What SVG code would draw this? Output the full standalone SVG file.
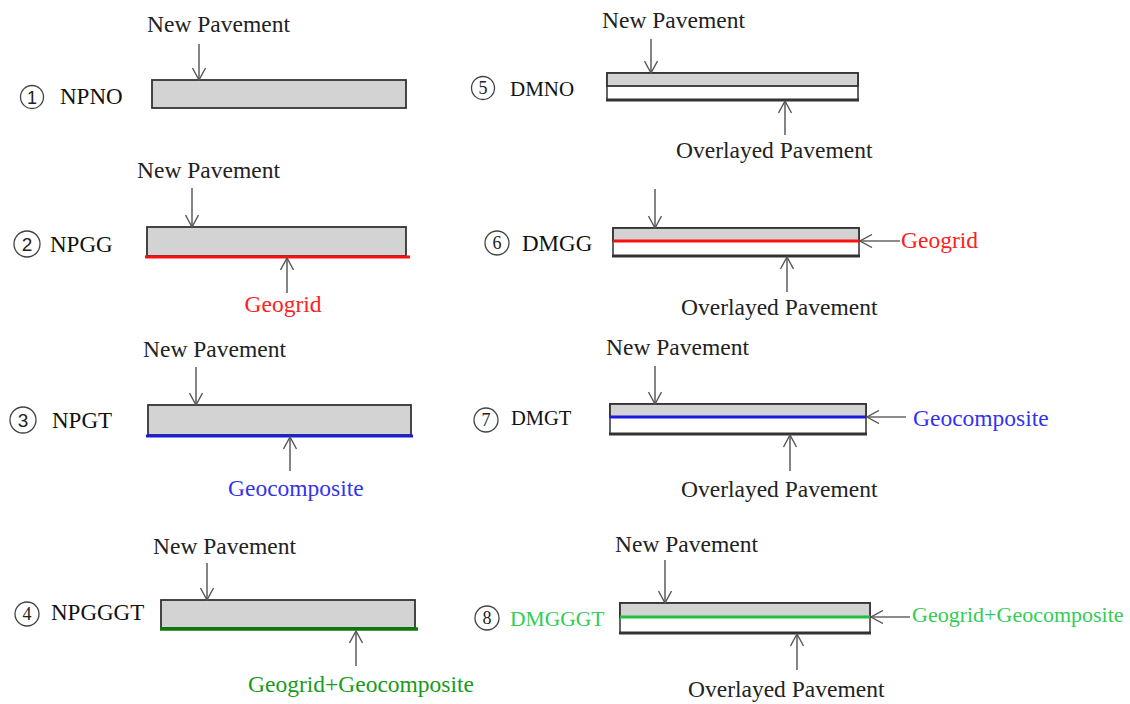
<svg xmlns="http://www.w3.org/2000/svg" width="1130" height="704" viewBox="0 0 1130 704">
<defs>
<style>
.t{font-family:"Liberation Serif","Times New Roman",serif;font-size:23.5px;fill:#222}
.lbl{font-family:"Liberation Serif","Times New Roman",serif;font-size:23px;fill:#111}
.num{font-family:"Liberation Sans",Arial,sans-serif;font-size:18px;fill:#222;text-anchor:middle}
.numS{font-family:"Liberation Serif","Times New Roman",serif;font-size:18px;fill:#222;text-anchor:middle}
.circ{fill:#fff;stroke:#444;stroke-width:1.3}
.slab{fill:#d3d3d3;stroke:#333;stroke-width:1.8}
.low{fill:#fff;stroke:#333;stroke-width:1.5}
.base{stroke:#333;stroke-width:3}
.arr{stroke:#666;stroke-width:1.6;fill:none;marker-end:url(#ah)}
.red{fill:#ff2020}.blue{fill:#3333ee}.dg{fill:#1a9a1a}.lg{fill:#33cc55}
</style>
<marker id="ah" viewBox="0 0 14 14" refX="13" refY="7" markerWidth="14" markerHeight="14" markerUnits="userSpaceOnUse" orient="auto">
<path d="M1,0.5 L13,7 L1,13.5" fill="none" stroke="#555" stroke-width="1.4"/>
</marker>
</defs>
<rect width="1130" height="704" fill="#fff"/>

<g id="n1">
<circle class="circ" cx="32" cy="97" r="11.5"/><text class="num" x="32" y="103.5">1</text>
<text class="lbl" x="60" y="104">NPNO</text>
<text class="t" x="147" y="32">New Pavement</text>
<rect class="slab" x="152" y="80" width="254" height="28"/>
</g>

<g id="n2">
<circle class="circ" cx="27" cy="244" r="13"/><text class="num" x="27" y="250.5" style="font-size:19px">2</text>
<text class="lbl" x="50" y="252">NPGG</text>
<text class="t" x="137" y="178">New Pavement</text>
<rect class="slab" x="147" y="227" width="259" height="29"/>
<line x1="145" y1="257" x2="410" y2="257" stroke="#ff1010" stroke-width="3"/>
<text class="t red" x="283" y="312" text-anchor="middle">Geogrid</text>
</g>

<g id="n3">
<circle class="circ" cx="23" cy="420" r="13"/><text class="num" x="23" y="426.5" style="font-size:19px">3</text>
<text class="lbl" x="52" y="428">NPGT</text>
<text class="t" x="143" y="357">New Pavement</text>
<rect class="slab" x="148" y="405" width="263" height="30"/>
<line x1="146" y1="436" x2="413" y2="436" stroke="#1a1ae0" stroke-width="3"/>
<text class="t blue" x="228" y="496">Geocomposite</text>
</g>

<g id="n4">
<circle class="circ" cx="27" cy="614" r="12"/><text class="numS" x="27" y="620">4</text>
<text class="lbl" x="51" y="620">NPGGGT</text>
<text class="t" x="153" y="554">New Pavement</text>
<rect class="slab" x="161" y="600" width="254" height="28"/>
<line x1="160" y1="629" x2="418" y2="629" stroke="#0a7a0a" stroke-width="3.5"/>
<text class="t dg" x="248" y="692">Geogrid+Geocomposite</text>
</g>

<g id="n5">
<circle class="circ" cx="483" cy="88" r="11.5"/><text class="numS" x="483" y="94">5</text>
<text class="lbl" x="510" y="96" style="font-size:21px">DMNO</text>
<text class="t" x="602" y="28">New Pavement</text>
<rect class="low" x="607" y="73" width="251" height="27"/>
<rect class="slab" x="607" y="73" width="251" height="13"/>
<line class="base" x1="606" y1="100" x2="859" y2="100"/>
<text class="t" x="676" y="158">Overlayed Pavement</text>
</g>

<g id="n6">
<circle class="circ" cx="497" cy="243" r="12"/><text class="numS" x="497" y="249">6</text>
<text class="lbl" x="522" y="251">DMGG</text>
<rect class="low" x="613" y="228" width="246" height="28"/>
<rect class="slab" x="613" y="228" width="246" height="13"/>
<line class="base" x1="612" y1="256" x2="860" y2="256"/>
<line x1="613" y1="241" x2="859" y2="241" stroke="#ff1010" stroke-width="3"/>
<text class="t red" x="901" y="248">Geogrid</text>
<text class="t" x="681" y="315">Overlayed Pavement</text>
</g>

<g id="n7">
<circle class="circ" cx="486" cy="420" r="12"/><text class="numS" x="486" y="426">7</text>
<text class="lbl" x="511" y="425" style="font-size:20.5px">DMGT</text>
<text class="t" x="606" y="355">New Pavement</text>
<rect class="low" x="610" y="404" width="256" height="30"/>
<rect class="slab" x="610" y="404" width="256" height="13"/>
<line class="base" x1="609" y1="434" x2="867" y2="434"/>
<line x1="610" y1="417" x2="866" y2="417" stroke="#1a1ae0" stroke-width="3"/>
<text class="t blue" x="913" y="426">Geocomposite</text>
<text class="t" x="681" y="497">Overlayed Pavement</text>
</g>

<g id="n8">
<circle class="circ" cx="487" cy="618" r="12"/><text class="numS" x="487" y="624">8</text>
<text class="lbl lg" x="510" y="626" style="font-size:21.5px">DMGGGT</text>
<text class="t" x="615" y="552">New Pavement</text>
<rect class="low" x="620" y="603" width="250" height="30"/>
<rect class="slab" x="620" y="603" width="250" height="14"/>
<line class="base" x1="619" y1="633" x2="871" y2="633"/>
<line x1="620" y1="617" x2="870" y2="617" stroke="#22c040" stroke-width="3"/>
<text class="t lg" x="912" y="622" style="font-size:22px">Geogrid+Geocomposite</text>
<text class="t" x="688" y="697">Overlayed Pavement</text>
</g>

<g id="connectors">
<line class="arr" x1="199" y1="44" x2="199" y2="80"/>
<line class="arr" x1="192" y1="188" x2="192" y2="227"/>
<line class="arr" x1="287" y1="293" x2="287" y2="258"/>
<line class="arr" x1="196" y1="367" x2="196" y2="405"/>
<line class="arr" x1="290" y1="471" x2="290" y2="437"/>
<line class="arr" x1="207" y1="563" x2="207" y2="600"/>
<line class="arr" x1="356" y1="666" x2="356" y2="631"/>
<line class="arr" x1="651" y1="39" x2="651" y2="73"/>
<line class="arr" x1="785" y1="135" x2="785" y2="101"/>
<line class="arr" x1="655" y1="189" x2="655" y2="228"/>
<line class="arr" x1="900" y1="241" x2="860" y2="241"/>
<line class="arr" x1="787" y1="292" x2="787" y2="257"/>
<line class="arr" x1="655" y1="366" x2="655" y2="404"/>
<line class="arr" x1="906" y1="417" x2="867" y2="417"/>
<line class="arr" x1="790" y1="471" x2="790" y2="435"/>
<line class="arr" x1="665" y1="560" x2="665" y2="603"/>
<line class="arr" x1="910" y1="617" x2="871" y2="617"/>
<line class="arr" x1="797" y1="670" x2="797" y2="634"/>
</g>
</svg>
